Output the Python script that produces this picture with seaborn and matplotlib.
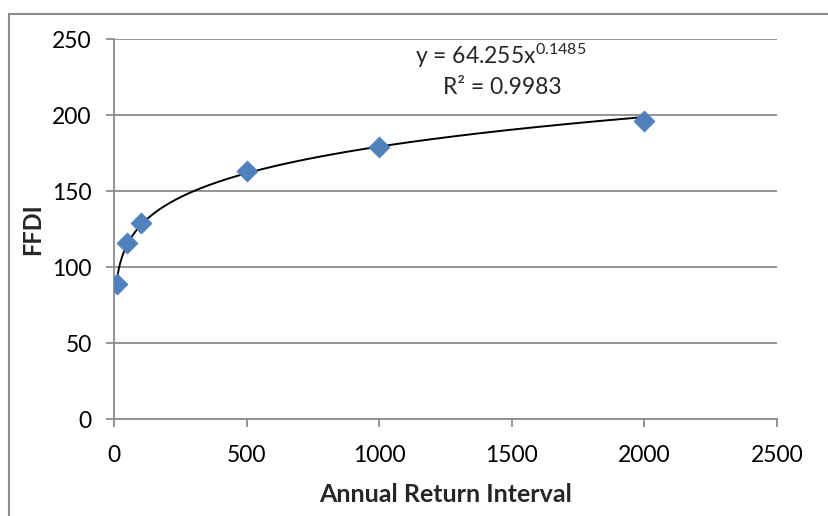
import numpy as np
import pandas as pd
import matplotlib
matplotlib.use("Agg")
import matplotlib.pyplot as plt
import seaborn as sns
from matplotlib.patches import Rectangle

# ---- data ----
return_interval = [10, 50, 100, 500, 1000, 2000]
ffdi = [89, 116, 129, 163, 179, 196]
x_ticks = [0, 500, 1000, 1500, 2000, 2500]
y_ticks = [0, 50, 100, 150, 200, 250]
equation_text = r"y = 64.255x$^{0.1485}$"
r2_text = "R² = 0.9983"
x_label = "Annual Return Interval"
y_label = "FFDI"

sns.set_theme(style="white")
plt.rcParams["font.family"] = ["Lato", "DejaVu Sans"]
plt.rcParams["mathtext.fontset"] = "custom"
plt.rcParams["mathtext.rm"] = "Lato"
plt.rcParams["mathtext.it"] = "Lato"
plt.rcParams["mathtext.bf"] = "Lato:bold"

GRID = "#8c8c8c"
BLUE = "#4F81BD"

df = pd.DataFrame({"x": return_interval, "y": ffdi})

# power-law trendline fitted to the points (as the spreadsheet does)
b, loga = np.polyfit(np.log(df["x"]), np.log(df["y"]), 1)
xs = np.geomspace(min(return_interval), max(return_interval), 300)
trend = pd.DataFrame({"x": xs, "y": np.exp(loga) * xs ** b})

fig = plt.figure(figsize=(8.29, 5.16), dpi=100)
ax = fig.add_axes([114 / 829, 1 - 419 / 516, (777 - 114) / 829, (419 - 39) / 516])

sns.lineplot(data=trend, x="x", y="y", ax=ax, color="black", lw=1.4, zorder=3)
sns.scatterplot(data=df, x="x", y="y", ax=ax, marker="D", s=115, color=BLUE,
                edgecolor=BLUE, linewidth=0.5, zorder=4)

ax.set_xlim(0, 2500)
ax.set_ylim(0, 250)
ax.set_xticks(x_ticks)
ax.set_yticks(y_ticks)
ax.tick_params(axis="both", labelsize=16.5, colors=GRID, labelcolor="black",
               length=6, width=1.3, direction="out")
ax.tick_params(axis="x", bottom=True, pad=13)
ax.tick_params(axis="y", left=True, pad=10)
ax.yaxis.grid(True, color=GRID, lw=1.3)
ax.xaxis.grid(False)
for s in ["top", "right"]:
    ax.spines[s].set_visible(False)
for s in ["left", "bottom"]:
    ax.spines[s].set_color(GRID)
    ax.spines[s].set_linewidth(1.3)
ax.set_axisbelow(True)

ax.set_xlabel(x_label, fontsize=18, fontweight="bold", va="center")
ax.set_ylabel(y_label, fontsize=17, fontweight="bold", va="center")
ax.xaxis.set_label_coords(0.5, (419 - 494) / 380)
ax.yaxis.set_label_coords((33 - 114) / 663, 0.5)

ax.text(0.583, 0.955, equation_text, transform=ax.transAxes, ha="center",
        va="center", fontsize=16.5)
ax.text(0.585, 0.873, r2_text, transform=ax.transAxes, ha="center",
        va="center", fontsize=16.5)

# chart-area border
fig.patches.append(Rectangle((9.5 / 829, -0.2), 1.2, 1.2 - 13.5 / 516,
                             transform=fig.transFigure, fill=False,
                             edgecolor=GRID, lw=1.5))

fig.savefig("out.png", dpi=100)
